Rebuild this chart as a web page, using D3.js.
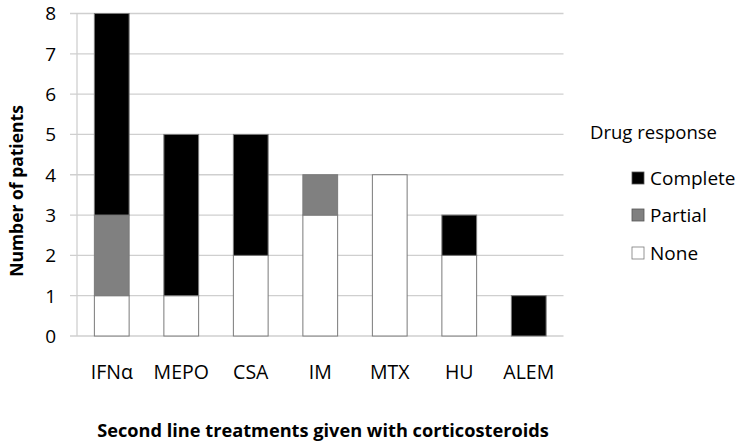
<!DOCTYPE html>
<html><head><meta charset="utf-8">
<script src="https://cdn.jsdelivr.net/npm/d3@7/dist/d3.min.js"></script>
<style>body{margin:0;background:#fff}svg{display:block}text{font-family:"Open Sans",Lato,sans-serif}</style>
</head><body>
<svg id="c" width="737" height="443"></svg>
<script>
const categories = ["IFNα","MEPO","CSA","IM","MTX","HU","ALEM"];
const noneVals = [1,1,2,3,4,2,0];
const partialVals = [2,0,0,1,0,0,0];
const completeVals = [5,4,3,0,0,1,1];
const yTicks = [0,1,2,3,4,5,6,7,8];
const seriesNames = ["None","Partial","Complete"];
const seriesColors = {None:"#ffffff",Partial:"#808080",Complete:"#000000"};

const rows = categories.map((c,i)=>({cat:c,None:noneVals[i],Partial:partialVals[i],Complete:completeVals[i]}));
const stacked = d3.stack().keys(seriesNames)(rows);

const svg = d3.select("#c");
const x = d3.scaleBand().domain(categories).range([77,563.5]).paddingInner(0.5).paddingOuter(0.25);
const y = d3.scaleLinear().domain([0,8]).range([336,13.5]);

svg.append("g").selectAll("line").data(yTicks).join("line")
  .attr("x1",70).attr("x2",563.5).attr("y1",d=>y(d)).attr("y2",d=>y(d))
  .attr("stroke","#cfcfcf").attr("stroke-width",1.3);
svg.append("line").attr("x1",77).attr("x2",77).attr("y1",y(8)).attr("y2",y(0))
  .attr("stroke","#cfcfcf").attr("stroke-width",1.3);

svg.append("g").selectAll("g").data(stacked).join("g")
  .attr("fill",d=>seriesColors[d.key])
  .selectAll("rect").data(d=>d.filter(p=>p[1]-p[0]>0)).join("rect")
  .attr("x",d=>x(d.data.cat)).attr("width",x.bandwidth())
  .attr("y",d=>y(d[1])).attr("height",d=>y(d[0])-y(d[1]))
  .attr("stroke","#7a7a7a").attr("stroke-width",1);

svg.append("g").selectAll("text").data(yTicks).join("text")
  .attr("x",56).attr("y",d=>y(d)).attr("dy","0.36em").attr("text-anchor","end")
  .attr("font-size",19).attr("fill","#000").text(d=>d);

svg.append("g").selectAll("text").data(categories).join("text")
  .attr("x",d=>x(d)+x.bandwidth()/2).attr("y",372).attr("dy","0.36em")
  .attr("text-anchor","middle").attr("font-size",19.5).attr("fill","#000").text(d=>d);

svg.append("text").attr("transform","translate(17,191) rotate(-90)")
  .attr("text-anchor","middle").attr("dy","0.36em").attr("font-size",17.5).attr("font-weight","bold")
  .text("Number of patients");
svg.append("text").attr("x",323).attr("y",430).attr("dy","0.36em")
  .attr("text-anchor","middle").attr("font-size",18.2).attr("font-weight","bold")
  .text("Second line treatments given with corticosteroids");

svg.append("text").attr("x",590).attr("y",132).attr("dy","0.36em").attr("font-size",18.5).text("Drug response");
const legendItems = ["Complete","Partial","None"];
const legendY = [178,215,253];
const lg = svg.append("g").selectAll("g").data(legendItems).join("g")
  .attr("transform",(d,i)=>`translate(632,${legendY[i]})`);
lg.append("rect").attr("x",0).attr("y",-6).attr("width",12).attr("height",12)
  .attr("fill",d=>seriesColors[d]).attr("stroke",d=>d==="None"?"#7a7a7a":"#555").attr("stroke-width",0.8);
lg.append("text").attr("x",18).attr("y",0).attr("dy","0.36em").attr("font-size",19).text(d=>d);
</script>
</body></html>
